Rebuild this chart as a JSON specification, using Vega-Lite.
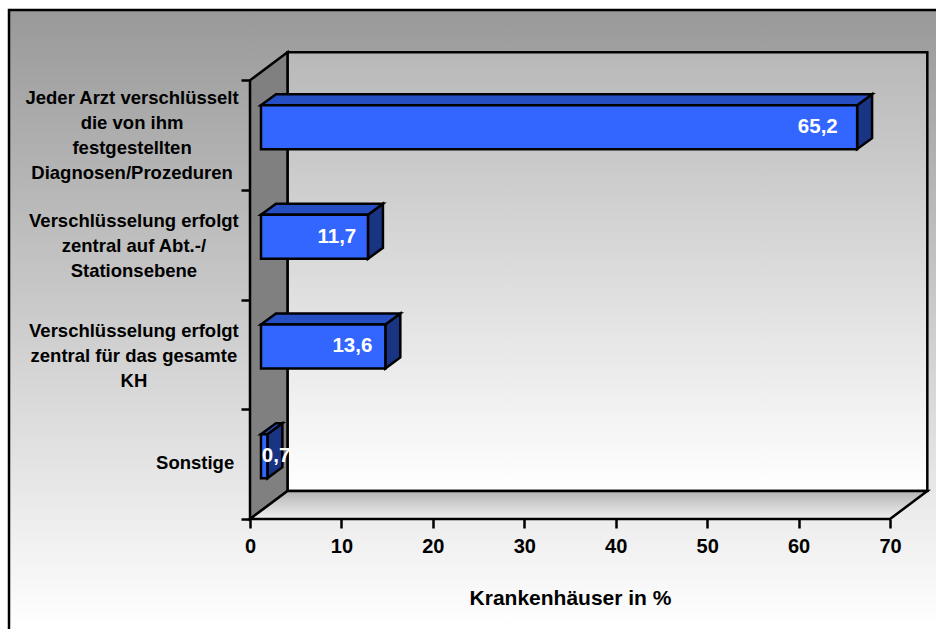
{"$schema":"https://vega.github.io/schema/vega-lite/v6.json","width":927,"height":619,"padding":{"left":9,"top":10,"right":0,"bottom":0},"autosize":{"type":"none"},"background":"white","view":{"stroke":null},"config":{"font":"Liberation Sans","text":{"font":"Liberation Sans"}},
"datasets":{
"bars":[
{"label":"Jeder Arzt verschlüsselt\ndie von ihm\nfestgestellten\nDiagnosen/Prozeduren","value":65.2,"pos":3.5,"valueText":"65,2","valueX":62.1,"labelX":-12.9,"labelY":3.839},
{"label":"Verschlüsselung erfolgt\nzentral auf Abt.-/\nStationsebene","value":11.7,"pos":2.5,"valueText":"11,7","valueX":9.5,"labelX":-12.7,"labelY":2.717},
{"label":"Verschlüsselung erfolgt\nzentral für das gesamte\nKH","value":13.6,"pos":1.5,"valueText":"13,6","valueX":11.2,"labelX":-12.7,"labelY":1.714},
{"label":"Sonstige","value":0.7,"pos":0.5,"valueText":"0,7","valueX":2.85,"labelX":-6.0,"labelY":0.511}],
"background":[{"x":-26.36,"x2":75.03,"y":-1.003,"y2":4.641}],
"backWall":[{"x":4.1,"x2":74.08,"y":0.255,"y2":4.255}],
"frame":[{"i":1,"x":-26.36,"y":-1.003},{"i":2,"x":-26.36,"y":4.641},{"i":3,"x":75.03,"y":4.641}],
"sideWall":[{"i":1,"x":0,"y":0},{"i":2,"x":0,"y":4},{"i":3,"x":4.1,"y":4.255},{"i":4,"x":4.1,"y":0.255}],
"floor":[{"i":1,"x":0,"y":0},{"i":2,"x":70,"y":0},{"i":3,"x":74.08,"y":0.255},{"i":4,"x":4.1,"y":0.255}],
"barTop":[
{"bar":"a","i":1,"x":1.2,"y":3.7735},{"bar":"a","i":2,"x":66.4,"y":3.7735},{"bar":"a","i":3,"x":68.04,"y":3.8738},{"bar":"a","i":4,"x":2.84,"y":3.8738},
{"bar":"b","i":1,"x":1.2,"y":2.7735},{"bar":"b","i":2,"x":12.9,"y":2.7735},{"bar":"b","i":3,"x":14.54,"y":2.8738},{"bar":"b","i":4,"x":2.84,"y":2.8738},
{"bar":"c","i":1,"x":1.2,"y":1.7735},{"bar":"c","i":2,"x":14.8,"y":1.7735},{"bar":"c","i":3,"x":16.44,"y":1.8738},{"bar":"c","i":4,"x":2.84,"y":1.8738},
{"bar":"d","i":1,"x":1.2,"y":0.7735},{"bar":"d","i":2,"x":1.9,"y":0.7735},{"bar":"d","i":3,"x":3.54,"y":0.8738},{"bar":"d","i":4,"x":2.84,"y":0.8738}],
"barSide":[
{"bar":"a","i":1,"x":66.4,"y":3.7735},{"bar":"a","i":2,"x":68.04,"y":3.8738},{"bar":"a","i":3,"x":68.04,"y":3.4726},{"bar":"a","i":4,"x":66.4,"y":3.3723},
{"bar":"b","i":1,"x":12.9,"y":2.7735},{"bar":"b","i":2,"x":14.54,"y":2.8738},{"bar":"b","i":3,"x":14.54,"y":2.4726},{"bar":"b","i":4,"x":12.9,"y":2.3723},
{"bar":"c","i":1,"x":14.8,"y":1.7735},{"bar":"c","i":2,"x":16.44,"y":1.8738},{"bar":"c","i":3,"x":16.44,"y":1.4726},{"bar":"c","i":4,"x":14.8,"y":1.3723},
{"bar":"d","i":1,"x":1.9,"y":0.7735},{"bar":"d","i":2,"x":3.54,"y":0.8738},{"bar":"d","i":3,"x":3.54,"y":0.4726},{"bar":"d","i":4,"x":1.9,"y":0.3723}]
},
"data":{"name":"bars"},
"encoding":{
"x":{"field":"x","type":"quantitative","scale":{"domain":[-26.36,75.03],"nice":false,"zero":false,"padding":0},"axis":{"orient":"bottom","offset":-110,"values":[0,10,20,30,40,50,60,70],"domain":false,"grid":false,"tickColor":"black","tickWidth":2.5,"tickSize":9,"labelFont":"Liberation Sans","labelFontWeight":"bold","labelFontSize":20,"labelColor":"black","labelPadding":8,"title":"Krankenhäuser in %","titleFont":"Liberation Sans","titleFontWeight":"bold","titleFontSize":21,"titleColor":"black","titleX":561,"titleY":79,"titleBaseline":"middle","titleAlign":"center","zindex":1}},
"y":{"field":"y","type":"quantitative","scale":{"domain":[-1.003,4.641],"nice":false,"zero":false,"padding":0},"axis":{"orient":"left","offset":-241,"values":[0,1,2,3,4],"domain":false,"grid":false,"labels":false,"tickColor":"black","tickWidth":2.5,"tickSize":9,"title":null,"zindex":1}}
},
"layer":[
{"data":{"name":"background"},"mark":{"type":"rect","fill":{"gradient":"linear","x1":0,"y1":0,"x2":0,"y2":1,"stops":[{"offset":0,"color":"#999999"},{"offset":1,"color":"#ffffff"}]}},"encoding":{"x2":{"field":"x2"},"y2":{"field":"y2"}}},
{"data":{"name":"frame"},"mark":{"type":"line","stroke":"black","strokeWidth":2.5},"encoding":{"order":{"field":"i"}}},
{"data":{"name":"backWall"},"mark":{"type":"rect","stroke":"black","strokeWidth":2.5,"fill":{"gradient":"linear","x1":0,"y1":0,"x2":0,"y2":1,"stops":[{"offset":0,"color":"#b8b8b8"},{"offset":1,"color":"#ffffff"}]}},"encoding":{"x2":{"field":"x2"},"y2":{"field":"y2"}}},
{"data":{"name":"sideWall"},"mark":{"type":"line","interpolate":"linear-closed","fill":"#808080","stroke":"black","strokeWidth":2.5},"encoding":{"order":{"field":"i"}}},
{"data":{"name":"floor"},"mark":{"type":"line","interpolate":"linear-closed","stroke":"black","strokeWidth":2.5,"fill":{"gradient":"linear","x1":0,"y1":0,"x2":0,"y2":1,"stops":[{"offset":0,"color":"#b4b4b4"},{"offset":1,"color":"#f0f0f0"}]}},"encoding":{"order":{"field":"i"}}},
{"data":{"name":"barSide"},"mark":{"type":"line","interpolate":"linear-closed","fill":"#1a3484","stroke":"black","strokeWidth":2.5},"encoding":{"detail":{"field":"bar"},"order":{"field":"i"}}},
{"data":{"name":"barTop"},"mark":{"type":"line","interpolate":"linear-closed","fill":"#264fc4","stroke":"black","strokeWidth":2.5},"encoding":{"detail":{"field":"bar"},"order":{"field":"i"}}},
{"mark":{"type":"bar","orient":"horizontal","size":44,"fill":"#3366ff","stroke":"black","strokeWidth":2.5,"xOffset":11,"x2Offset":11,"yOffset":-8,"y2Offset":-8},
"encoding":{"x":{"field":"value","type":"quantitative"},"y":{"field":"pos","type":"quantitative"}}},
{"mark":{"type":"text","font":"Liberation Sans","fontWeight":"bold","fontSize":20.5,"color":"white","yOffset":-8,"align":"center","baseline":"middle"},
"encoding":{"x":{"field":"valueX","type":"quantitative"},"y":{"field":"pos","type":"quantitative"},"text":{"field":"valueText"}}},
{"mark":{"type":"text","font":"Liberation Sans","fontWeight":"bold","fontSize":18.5,"color":"black","lineBreak":"\n","lineHeight":25,"align":"center","baseline":"middle"},
"encoding":{"x":{"field":"labelX","type":"quantitative"},"y":{"field":"labelY","type":"quantitative"},"text":{"field":"label"}}}
]}
